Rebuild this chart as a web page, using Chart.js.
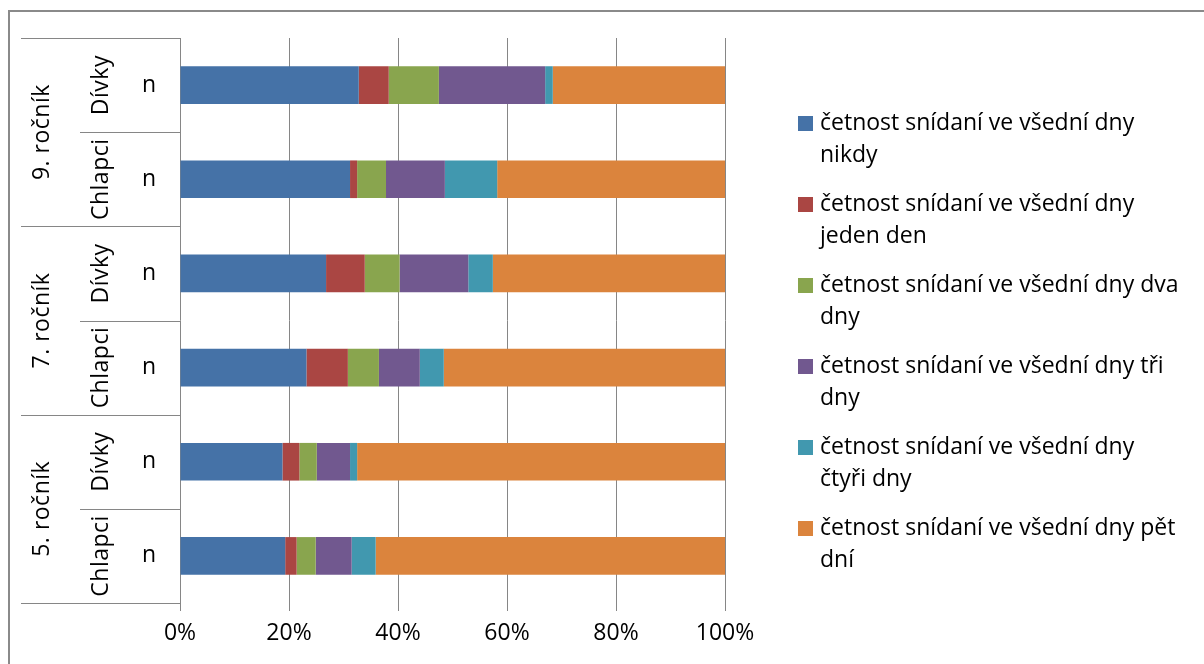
<!DOCTYPE html>
<html lang="cs">
<head>
<meta charset="utf-8">
<title>Četnost snídaní ve všední dny</title>
<script src="https://cdn.jsdelivr.net/npm/chart.js@4.4.1/dist/chart.umd.min.js"></script>
<style>
  html, body { margin: 0; padding: 0; background: #fff; }
  canvas { display: block; }
</style>
</head>
<body>
<canvas id="breakfast-chart" width="1204" height="664"></canvas>
<script>
// rows from top to bottom: grade groups, gender inside each grade, and the "n" sub-label
const grades = ['9. ročník', '7. ročník', '5. ročník'];
const genders = ['Dívky', 'Chlapci'];
const rowLabels = ['n', 'n', 'n', 'n', 'n', 'n'];

// series names, split into the two lines shown in the legend
const seriesNames = [
  ['četnost snídaní ve všední dny', 'nikdy'],
  ['četnost snídaní ve všední dny', 'jeden den'],
  ['četnost snídaní ve všední dny dva', 'dny'],
  ['četnost snídaní ve všední dny tři', 'dny'],
  ['četnost snídaní ve všední dny', 'čtyři dny'],
  ['četnost snídaní ve všední dny pět', 'dní'],
];
const seriesColors = ['#4572A7', '#AA4643', '#89A54E', '#71588F', '#4198AF', '#DB843D'];

// share of pupils in % for each row (same order as rowLabels)
const never = [32.8, 31.2, 26.8, 23.2, 18.8, 19.3];
const oneDay = [5.5, 1.3, 7.1, 7.6, 3.1, 2.1];
const twoDays = [9.2, 5.3, 6.4, 5.7, 3.2, 3.5];
const threeDays = [19.5, 10.8, 12.6, 7.5, 6.1, 6.6];
const fourDays = [1.4, 9.6, 4.5, 4.4, 1.3, 4.4];
const fiveDays = [31.6, 41.8, 42.6, 51.6, 67.5, 64.1];

const xTicks = [0, 20, 40, 60, 80, 100];

const FONT = '"Open Sans", sans-serif';
const FONT_SIZE = 23;
const LINE = '#868686';

const seriesValues = [never, oneDay, twoDays, threeDays, fourDays, fiveDays];

// outer frame of the chart object
const frame = {
  id: 'frame',
  beforeDraw(chart) {
    const ctx = chart.ctx;
    ctx.save();
    ctx.strokeStyle = '#8a8a8a';
    ctx.lineWidth = 2;
    ctx.strokeRect(9, 11, chart.width + 20, chart.height + 20);
    ctx.restore();
  }
};

// multi-level category labels left of the plot
const categoryLabels = {
  id: 'categoryLabels',
  afterDraw(chart) {
    const { ctx, chartArea, scales } = chart;
    const y = scales.y;
    const pos = rowLabels.map((_, i) => y.getPixelForValue(i));
    const half = (pos[1] - pos[0]) / 2;

    ctx.save();
    ctx.strokeStyle = LINE;
    ctx.lineWidth = 1;
    for (let i = 0; i <= rowLabels.length; i++) {
      const yy = Math.round(i < rowLabels.length ? pos[i] - half : pos[i - 1] + half) + 0.5;
      const x0 = i % 2 === 0 ? 21 : 80;
      ctx.beginPath();
      ctx.moveTo(x0, yy);
      ctx.lineTo(chartArea.left, yy);
      ctx.stroke();
    }

    ctx.fillStyle = '#000';
    ctx.font = FONT_SIZE + 'px ' + FONT;
    ctx.textAlign = 'center';
    ctx.textBaseline = 'middle';
    rowLabels.forEach((t, i) => ctx.fillText(t, 149, pos[i]));

    ctx.letterSpacing = '0.5px';
    const vertical = (text, x, yc) => {
      ctx.save();
      ctx.translate(x, yc);
      ctx.rotate(-Math.PI / 2);
      ctx.fillText(text, 0, 0);
      ctx.restore();
    };
    rowLabels.forEach((_, i) => vertical(genders[i % 2], 101, pos[i]));
    grades.forEach((g, k) => vertical(g, 42, (pos[2 * k] + pos[2 * k + 1]) / 2));
    ctx.restore();
  }
};

// legend with wrapped series names on the right
const sideLegend = {
  id: 'sideLegend',
  afterDraw(chart) {
    const ctx = chart.ctx;
    ctx.save();
    ctx.font = FONT_SIZE + 'px ' + FONT;
    ctx.textAlign = 'left';
    ctx.textBaseline = 'alphabetic';
    chart.data.datasets.forEach((ds, i) => {
      const base = 130 + i * 81;
      ctx.fillStyle = ds.backgroundColor;
      ctx.fillRect(798, base - 14, 15, 15);
      ctx.fillStyle = '#000';
      ds.label.forEach((line, j) => ctx.fillText(line, 820, base + j * 32));
    });
    ctx.restore();
  }
};

new Chart(document.getElementById('breakfast-chart'), {
  type: 'bar',
  data: {
    labels: rowLabels,
    datasets: seriesNames.map((name, i) => ({
      label: name,
      data: seriesValues[i],
      backgroundColor: seriesColors[i],
      borderWidth: 0,
      barPercentage: 0.4,
      categoryPercentage: 1,
    })),
  },
  options: {
    indexAxis: 'y',
    responsive: false,
    animation: false,
    layout: { padding: { left: 180, right: 479, top: 38, bottom: 0 } },
    plugins: {
      legend: { display: false },
      tooltip: { enabled: false },
    },
    scales: {
      x: {
        stacked: true,
        min: 0,
        max: 100,
        afterBuildTicks(axis) {
          axis.ticks = xTicks.map((v) => ({ value: v }));
        },
        afterFit(axis) {
          axis.height = 61;
        },
        border: { display: false },
        grid: { color: LINE, lineWidth: 1, tickLength: 8, drawTicks: true },
        ticks: {
          color: '#000',
          padding: 9,
          font: { family: FONT, size: FONT_SIZE },
          callback: (v) => v + '%',
        },
      },
      y: {
        stacked: true,
        display: false,
      },
    },
  },
  plugins: [frame, categoryLabels, sideLegend],
});
</script>
</body>
</html>
